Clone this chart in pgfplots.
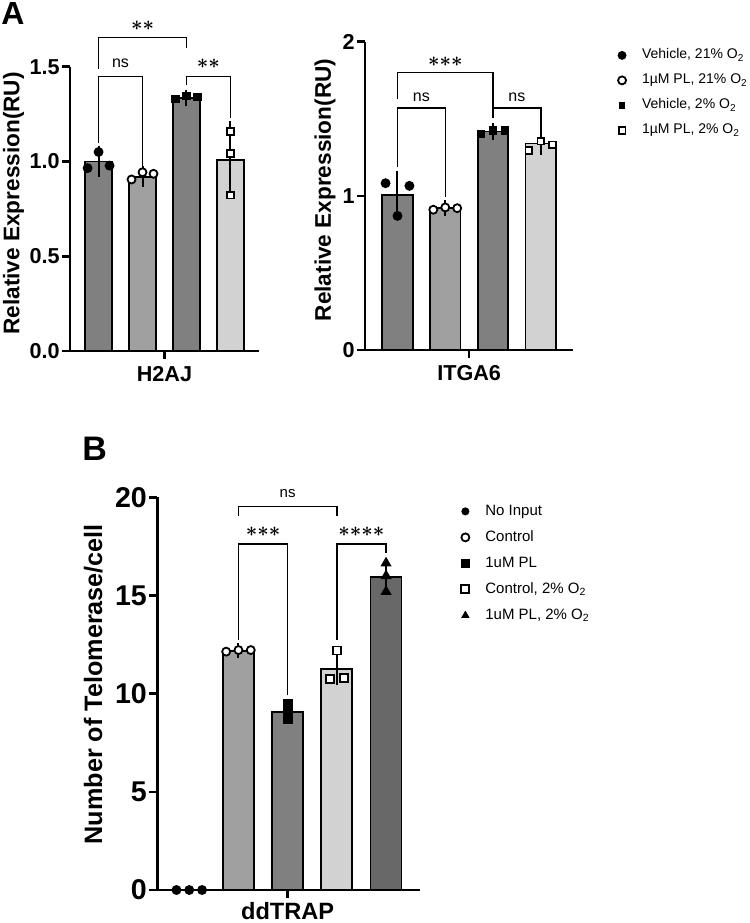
\documentclass[border=0pt]{standalone}
\usepackage{amsmath}
\usepackage{pgfplots}
\pgfplotsset{compat=1.18}
\usepackage{fontspec}
\setmainfont{Liberation Sans}
\definecolor{gA}{HTML}{808080}
\definecolor{gB}{HTML}{A0A0A0}
\definecolor{gC}{HTML}{D2D2D2}
\definecolor{gD}{HTML}{686868}
\tikzset{br/.style={line width=0.75pt, black},
  stars/.style={font=\fontsize{10}{12}\selectfont, inner sep=0pt}}
\newcommand{\st}{{\boldsymbol{\ast}}}
\begin{document}
\begin{tikzpicture}
\useasboundingbox (0,0) rectangle (375pt,461.5pt);
\pgfplotsset{
  myaxis/.style={
    scale only axis, axis lines*=left,
    axis line style={line width=1.3pt, black},
    clip=false, ymin=0,
    tick align=outside, major tick length=4pt,
    tick style={line width=1.3pt, black},
    /pgf/number format/assume math mode=true,
    legend image code/.code={\draw[##1] plot coordinates {(0pt,0pt)};},
  },
  mybar/.style={forget plot, ybar, bar shift=0pt, draw=black, line width=0.9pt, fill=#1,
    error bars/.cd, y dir=both, y explicit,
    error bar style={line width=1pt, black, solid},
    error mark options={line width=1pt, black, mark size=3.3pt}},
  pt/.style={only marks, forget plot, mark=#1, mark size=2pt, mark options={line width=0.9pt, draw=black, fill=black}},
  opt/.style={only marks, forget plot, mark=#1, mark size=2pt, mark options={line width=0.9pt, draw=black, fill=white}},
}

% ---------------- Panel A, H2AJ ----------------
\begin{axis}[myaxis,
  at={(35pt,286pt)}, anchor=south west,
  width=94.5pt, height=142.15pt,
  xmin=-0.65, xmax=3.65, ymax=1.5,
  xtick={1.5}, xticklabels={H2AJ},
  ytick={0,0.5,1,1.5},
  yticklabel style={font=\bfseries\fontsize{10.8}{12}\selectfont, inner sep=1pt,
    /pgf/number format/fixed, /pgf/number format/fixed zerofill, /pgf/number format/precision=1},
  xticklabel style={font=\bfseries\fontsize{10.8}{12}\selectfont},
  ylabel={Relative Expression(RU)},
  ylabel style={font=\bfseries\fontsize{11.3}{13}\selectfont, at={(axis description cs:-0.299,0.519)}, anchor=center, rotate=0},
  bar width=13.75pt,
]
\addplot[mybar=gA] coordinates {(0,1.00) +- (0,0.045)};
\addplot[mybar=gB] coordinates {(1,0.92) +- (0,0.02)};
\addplot[mybar=gA] coordinates {(2,1.336) +- (0,0.008)};
\addplot[mybar=gC] coordinates {(3,1.008) +- (0,0.17)};
\addplot[pt=*] coordinates {(-0.25,0.965) (0,1.05) (0.25,0.978)};
\addplot[opt=*] coordinates {(0.75,0.905) (1,0.943) (1.25,0.935)};
\addplot[pt=square*, mark size=1.7pt] coordinates {(1.75,1.33) (2,1.345) (2.25,1.34)};
\addplot[opt=square*, mark size=1.7pt] coordinates {(3,1.157) (3,1.043) (3,0.823)};
\draw[br] (axis cs:0,1.49) |- (axis cs:2,1.653) -- (axis cs:2,1.60);
\draw[br] (axis cs:0,1.099) |- (axis cs:1,1.447) -- (axis cs:1,0.964);
\draw[br] (axis cs:2,1.403) |- (axis cs:3,1.447) -- (axis cs:3,1.228);
\node[stars] at (axis cs:1,1.715) {$\st\st$};
\node[font=\fontsize{8}{9}\selectfont] at (axis cs:0.5,1.518) {ns};
\node[stars] at (axis cs:2.5,1.515) {$\st\st$};
\end{axis}

% ---------------- Panel A, ITGA6 ----------------
\begin{axis}[myaxis,
  at={(182.5pt,286.5pt)}, anchor=south west,
  width=104.15pt, height=154.15pt,
  xmin=-0.68, xmax=3.68, ymax=2,
  xtick={1.5}, xticklabels={ITGA6},
  ytick={0,1,2},
  yticklabel style={font=\bfseries\fontsize{10.8}{12}\selectfont, inner sep=1pt},
  xticklabel style={font=\bfseries\fontsize{10.8}{12}\selectfont},
  ylabel={Relative Expression(RU)},
  ylabel style={font=\bfseries\fontsize{11.3}{13}\selectfont, at={(axis description cs:-0.192,0.519)}, anchor=center},
  bar width=15.3pt,
  legend style={draw=none, fill=none, at={(1.213,0.978)}, anchor=north west,
    font=\fontsize{7}{8}\selectfont, row sep=6pt, column sep=8pt, inner sep=0pt,
    nodes={inner sep=0pt, text height=5pt, text depth=1.5pt}},
  legend cell align=left,
]
\addplot[mybar=gA] coordinates {(0,1.006) +- (0,0.115)};
\addplot[mybar=gB] coordinates {(1,0.92) +- (0,0.01)};
\addplot[mybar=gA] coordinates {(2,1.418) +- (0,0.01)};
\addplot[mybar=gC] coordinates {(3,1.34) +- (0,0.03)};
\addplot[pt=*] coordinates {(-0.25,1.082) (0,0.87) (0.25,1.065)};
\addplot[opt=*] coordinates {(0.75,0.91) (1,0.925) (1.25,0.92)};
\addplot[pt=square*, mark size=1.7pt] coordinates {(1.75,1.40) (2,1.425) (2.25,1.425)};
\addplot[opt=square*, mark size=1.7pt] coordinates {(2.75,1.295) (3,1.355) (3.25,1.33)};
\draw[br] (axis cs:0,1.628) |- (axis cs:2,1.80) -- (axis cs:2,1.57);
\draw[br] (axis cs:0,1.19) |- (axis cs:1,1.57) -- (axis cs:1,0.995);
\draw[br] (axis cs:2,1.505) |- (axis cs:3,1.57) -- (axis cs:3,1.41);
\node[stars] at (axis cs:1,1.87) {$\st\st\st$};
\node[font=\fontsize{8}{9}\selectfont] at (axis cs:0.5,1.64) {ns};
\node[font=\fontsize{8}{9}\selectfont] at (axis cs:2.5,1.64) {ns};
\addlegendimage{only marks, mark=*, mark size=2pt, black}
\addlegendentry{Vehicle, 21\% O\textsubscript{2}}
\addlegendimage{only marks, mark=*, mark size=2pt, draw=black, fill=white, line width=0.9pt}
\addlegendentry{1µM PL, 21\% O\textsubscript{2}}
\addlegendimage{only marks, mark=square*, mark size=1.4pt, black}
\addlegendentry{Vehicle, 2\% O\textsubscript{2}}
\addlegendimage{only marks, mark=square*, mark size=1.7pt, draw=black, fill=white, line width=0.9pt}
\addlegendentry{1µM PL, 2\% O\textsubscript{2}}
\end{axis}

% ---------------- Panel B ----------------
\begin{axis}[myaxis,
  at={(78.65pt,16.5pt)}, anchor=south west,
  width=131.35pt, height=196.35pt,
  xmin=-0.65, xmax=4.69, ymax=20,
  xtick={2}, xticklabels={ddTRAP},
  ytick={0,5,10,15,20},
  yticklabel style={font=\bfseries\fontsize{14.3}{16}\selectfont, inner sep=1pt},
  xticklabel style={font=\bfseries\fontsize{11.8}{13}\selectfont, inner sep=2pt, text depth=0pt},
  ylabel={Number of Telomerase/cell},
  ylabel style={font=\bfseries\fontsize{12.6}{14}\selectfont, at={(axis description cs:-0.2436,0.524)}, anchor=center},
  bar width=15.5pt,
  legend style={draw=none, fill=none, at={(1.156,0.983)}, anchor=north west,
    font=\fontsize{7.5}{8.5}\selectfont, row sep=6pt, column sep=8pt, inner sep=0pt,
    nodes={inner sep=0pt, text height=5.4pt, text depth=1.6pt}},
  legend cell align=left,
]
\addplot[mybar=gB] coordinates {(1,12.18) +- (0,0.04)};
\addplot[mybar=gA] coordinates {(2,9.07) +- (0,0.25)};
\addplot[mybar=gC] coordinates {(3,11.25) +- (0,0.47)};
\addplot[mybar=gD] coordinates {(4,15.96) +- (0,0.42)};
\addplot[pt=*] coordinates {(-0.26,0) (0,0) (0.26,0)};
\addplot[opt=*] coordinates {(0.75,12.14) (1,12.22) (1.25,12.22)};
\addplot[pt=square*] coordinates {(2,9.5) (2,9.0) (2,8.7)};
\addplot[opt=square*] coordinates {(3,12.2) (2.86,10.75) (3.14,10.8)};
\addplot[pt=triangle*, mark size=2.3pt] coordinates {(4,16.65) (4,16.0) (4,15.2)};
\draw[br] (axis cs:1,19.05) |- (axis cs:3,19.53) -- (axis cs:3,19.05);
\draw[br] (axis cs:1,12.74) |- (axis cs:2,17.63) -- (axis cs:2,9.93);
\draw[br] (axis cs:3,12.74) |- (axis cs:4,17.63) -- (axis cs:4,17.15);
\node[font=\fontsize{7.5}{9}\selectfont] at (axis cs:2,20.2) {ns};
\node[stars] at (axis cs:1.5,18.25) {$\st\st\st$};
\node[stars] at (axis cs:3.5,18.25) {$\st\st\st\st$};
\addlegendimage{only marks, mark=*, mark size=1.8pt, black}
\addlegendentry{No Input}
\addlegendimage{only marks, mark=*, mark size=2pt, draw=black, fill=white, line width=0.9pt}
\addlegendentry{Control}
\addlegendimage{only marks, mark=square*, mark size=1.8pt, black}
\addlegendentry{1uM PL}
\addlegendimage{only marks, mark=square*, mark size=2pt, draw=black, fill=white, line width=0.9pt}
\addlegendentry{Control, 2\% O\textsubscript{2}}
\addlegendimage{only marks, mark=triangle*, mark size=2pt, black}
\addlegendentry{1uM PL, 2\% O\textsubscript{2}}
\end{axis}

\node[anchor=north west, inner sep=0pt, font=\bfseries\fontsize{16}{18}\selectfont] at (0.5pt,460.5pt) {A};
\node[anchor=north west, inner sep=0pt, font=\bfseries\fontsize{17}{19}\selectfont] at (41pt,243pt) {B};
\end{tikzpicture}
\end{document}
